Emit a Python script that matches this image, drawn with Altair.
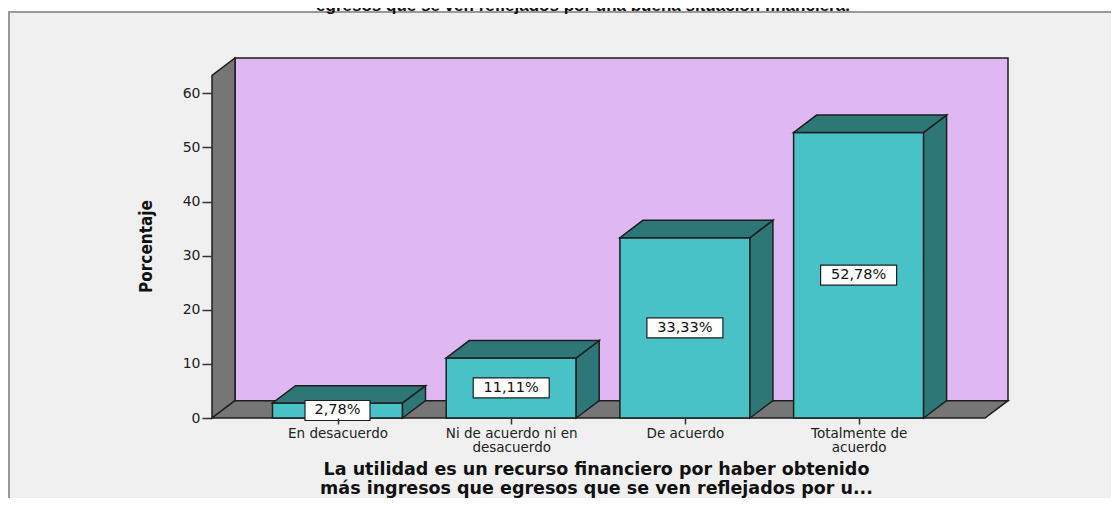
import json
import altair as alt
import pandas as pd

# ---------------- data ----------------
categories = ["En desacuerdo", "Ni de acuerdo ni en\ndesacuerdo", "De acuerdo", "Totalmente de\nacuerdo"]
percentages = [2.78, 11.11, 33.33, 52.78]
value_labels = ["2,78%", "11,11%", "33,33%", "52,78%"]
y_ticks = [0, 10, 20, 30, 40, 50, 60]
top_title = "egresos que se ven reflejados por una buena situación financiera."
x_title = ["La utilidad es un recurso financiero por haber obtenido",
           "más ingresos que egresos que se ven reflejados por u..."]
y_title = "Porcentaje"

# ---------------- geometry / style ----------------
W, H = 796, 360
X_MIN, X_MAX = -0.7225, 3.86
Y_MAX = 66.53
PX_X = W / (X_MAX - X_MIN)
PX_Y = H / Y_MAX
DX = 23 / PX_X          # 3-D depth, horizontal
DY = 17.3 / PX_Y        # 3-D depth, vertical
HW = 65 / PX_X          # half bar width

FRONT = "#48c2c6"
DARK = "#2e7777"
WALL = "#767676"
BACK = "#dfb8f3"
EDGE = "#1e1e1e"

xs = alt.Scale(domain=[X_MIN, X_MAX], nice=False, zero=False)
ys = alt.Scale(domain=[0, Y_MAX], nice=False, zero=False)

idx = list(range(len(categories)))
bars = pd.DataFrame({"cat": categories, "i": idx, "v": percentages, "lab": value_labels})
bars["x0"] = bars["i"] - HW
bars["x1"] = bars["i"] + HW
bars["mid"] = bars["v"] / 2
bars["bx0"] = bars["i"] - (bars["lab"].str.len() * 11 + 10) / 2 / PX_X
bars["bx1"] = bars["i"] + (bars["lab"].str.len() * 11 + 10) / 2 / PX_X

side_rows, top_rows = [], []
for c, i, v in zip(categories, idx, percentages):
    side_rows += [{"cat": c, "x": i + HW, "lo": 0, "hi": v},
                  {"cat": c, "x": i + HW + DX, "lo": DY, "hi": v + DY}]
    top_rows += [{"cat": c, "x": i - HW, "lo": v, "hi": v},
                 {"cat": c, "x": i - HW + DX, "lo": v, "hi": v + DY},
                 {"cat": c, "x": i + HW, "lo": v, "hi": v + DY},
                 {"cat": c, "x": i + HW + DX, "lo": v + DY, "hi": v + DY}]
side = pd.DataFrame(side_rows)
top = pd.DataFrame(top_rows)

left_wall = pd.DataFrame({"x": [X_MIN, X_MIN + DX], "lo": [0, DY], "hi": [Y_MAX - DY, Y_MAX]})
floor = pd.DataFrame({"x": [X_MIN, X_MIN + DX, X_MAX - DX, X_MAX],
                      "lo": [0, 0, 0, DY], "hi": [0, DY, DY, DY]})
back = pd.DataFrame({"x": [X_MIN + DX], "x2": [X_MAX], "y": [DY], "y2": [Y_MAX]})
one = pd.DataFrame({"a": [0]})

label_expr = "split(" + json.dumps(categories) + "[round(datum.value)], '\\n')"

x_axis = alt.Axis(values=idx, labelExpr=label_expr, domain=False, grid=False,
                  tickSize=6, tickColor="#333", tickWidth=1.5,
                  labelFont="DejaVu Sans", labelFontSize=13.5, labelColor="#222",
                  labelPadding=2, labelLineHeight=14, labelOverlap=False, labelBound=False,
                  labelFlush=False,
                  title=x_title, titleFont="DejaVu Sans", titleFontWeight="bold",
                  titleFontSize=17.5, titleColor="#111", titleX=384, titleY=56,
                  titleBaseline="alphabetic", titleLineHeight=19, titleAlign="center",
                  zindex=1)
y_axis = alt.Axis(values=y_ticks, domain=False, grid=False, tickSize=10, tickColor="#333",
                  tickWidth=1.5, labelFont="DejaVu Sans", labelFontSize=14, labelColor="#222",
                  labelPadding=2, title=y_title,
                  titleFont="DejaVu Sans Condensed, Liberation Sans, sans-serif",
                  titleFontWeight="bold", titleFontSize=17, titleColor="#111",
                  titleAngle=270, titleX=-66, titleY=188, titleAlign="center",
                  titleBaseline="middle", zindex=1)


def X(field):
    return alt.X(field, scale=xs, axis=x_axis)


def Y(field):
    return alt.Y(field, scale=ys, axis=y_axis)


frame = alt.Chart(one).mark_rect(fill="#f0f0f0", stroke="#999999", strokeWidth=2).encode(
    x=alt.value(-203), x2=alt.value(930), y=alt.value(-46), y2=alt.value(480))

title_mark = alt.Chart(one).mark_text(text=top_title, font="Liberation Sans", fontWeight="bold",
                                      fontSize=17, align="center", baseline="alphabetic",
                                      color="#111").encode(x=alt.value(371), y=alt.value(-47))

back_wall = alt.Chart(back).mark_rect(fill=BACK, stroke=EDGE, strokeWidth=1.5).encode(
    x=X("x:Q"), x2="x2:Q", y=Y("y:Q"), y2="y2:Q")

lwall = alt.Chart(left_wall).mark_area(fill=WALL, stroke=EDGE, strokeWidth=1.5, orient="vertical").encode(
    x=X("x:Q"), y=Y("lo:Q"), y2="hi:Q")

floor_m = alt.Chart(floor).mark_area(fill=WALL, stroke=EDGE, strokeWidth=1.5, orient="vertical").encode(
    x=X("x:Q"), y=Y("lo:Q"), y2="hi:Q")

front = alt.Chart(bars).mark_rect(fill=FRONT, stroke=EDGE, strokeWidth=1.5).encode(
    x=X("x0:Q"), x2="x1:Q", y=Y("v:Q"), y2=alt.datum(0))

side_m = alt.Chart(side).mark_area(fill=DARK, stroke=EDGE, strokeWidth=1.5, orient="vertical").encode(
    x=X("x:Q"), y=Y("lo:Q"), y2="hi:Q", detail="cat:N")

top_m = alt.Chart(top).mark_area(fill=DARK, stroke=EDGE, strokeWidth=1.5, orient="vertical").encode(
    x=X("x:Q"), y=Y("lo:Q"), y2="hi:Q", detail="cat:N")

boxes = alt.Chart(bars).mark_rect(fill="white", stroke=EDGE, strokeWidth=1.2,
                                  yOffset=-10, y2Offset=10).encode(
    x=X("bx0:Q"), x2="bx1:Q", y=Y("mid:Q"), y2="mid:Q")

texts = alt.Chart(bars).mark_text(font="DejaVu Sans", fontSize=14.5, color="#111",
                                  align="center", baseline="middle").encode(
    x=X("i:Q"), y=Y("mid:Q"), text="lab:N")

chart = alt.layer(frame, title_mark, back_wall, lwall, floor_m, front, side_m, top_m, boxes, texts).properties(
    width=W, height=H,
    autosize=alt.AutoSizeParams(type="none"),
    padding={"left": 204, "top": 50, "right": 103, "bottom": 80},
    background="white",
).configure_view(stroke=None)

chart.save("out.html", embed_options={"renderer": "svg", "actions": False})
